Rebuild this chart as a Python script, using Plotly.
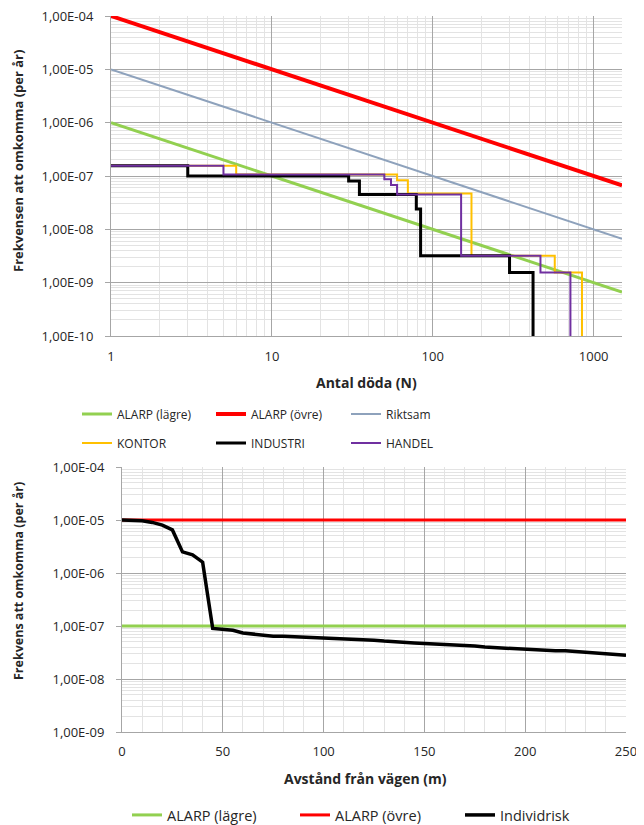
import plotly.graph_objects as go

# ---------------- data: top chart (F/N) ----------------
alarp_n = [1, 1500]
alarp_low_f = [1e-6, 1e-6 / 1500]
alarp_high_f = [1e-4, 1e-4 / 1500]
riktsam_f = [1e-5, 1e-5 / 1500]

kontor_n = [1, 6, 60, 70, 174, 573, 846]
kontor_f = [1.55e-7, 1.07e-7, 8.3e-8, 4.7e-8, 3.2e-9, 1.55e-9, 1e-11]

industri_n = [1, 3, 30, 35, 79, 84, 300, 420]
industri_f = [1.55e-7, 1.0e-7, 8.1e-8, 4.5e-8, 2.4e-8, 3.2e-9, 1.55e-9, 1e-11]

handel_n = [1, 5, 50, 55, 60, 150, 467, 717]
handel_f = [1.55e-7, 1.07e-7, 8.7e-8, 6.8e-8, 4.5e-8, 3.2e-9, 1.55e-9, 1e-11]

top_x_ticks = [1, 10, 100, 1000]
top_x_text = ["1", "10", "100", "1000"]
top_y_ticks = [1e-10, 1e-9, 1e-8, 1e-7, 1e-6, 1e-5, 1e-4]
top_y_text = ["1,00E-10", "1,00E-09", "1,00E-08", "1,00E-07", "1,00E-06", "1,00E-05", "1,00E-04"]

# ---------------- data: bottom chart (individual risk) ----------------
dist_m = [0, 5, 10, 15, 20, 25, 30, 35, 40, 45, 50, 55, 60, 65, 70, 75, 80, 85, 90, 95,
          100, 105, 110, 115, 120, 125, 130, 135, 140, 145, 150, 155, 160, 165, 170, 175,
          180, 185, 190, 195, 200, 205, 210, 215, 220, 225, 230, 235, 240, 245, 250]
individ_f = [1.0e-5, 9.9e-6, 9.7e-6, 9.0e-6, 8.0e-6, 6.5e-6, 2.5e-6, 2.2e-6, 1.6e-6, 9.0e-8,
             8.8e-8, 8.3e-8, 7.4e-8, 7.1e-8, 6.9e-8, 6.4e-8, 6.4e-8, 6.3e-8, 6.2e-8, 6.1e-8,
             6.0e-8, 5.9e-8, 5.8e-8, 5.7e-8, 5.6e-8, 5.4e-8, 5.2e-8, 5.0e-8, 4.9e-8, 4.8e-8,
             4.7e-8, 4.6e-8, 4.5e-8, 4.5e-8, 4.3e-8, 4.2e-8, 4.0e-8, 3.9e-8, 3.8e-8, 3.7e-8,
             3.6e-8, 3.5e-8, 3.5e-8, 3.4e-8, 3.4e-8, 3.3e-8, 3.2e-8, 3.1e-8, 3.0e-8, 2.95e-8,
             2.8e-8]
bottom_line_x = [0, 250]
bottom_alarp_low = [1e-7, 1e-7]
bottom_alarp_high = [1e-5, 1e-5]

bot_x_ticks = [0, 50, 100, 150, 200, 250]
bot_x_text = ["0", "50", "100", "150", "200", "250"]
bot_y_ticks = [1e-9, 1e-8, 1e-7, 1e-6, 1e-5, 1e-4]
bot_y_text = ["1,00E-09", "1,00E-08", "1,00E-07", "1,00E-06", "1,00E-05", "1,00E-04"]

# ---------------- styling ----------------
W, H = 644, 825
OFF = 8  # page body margin offsets the figure by 8 px
GREEN = "#92D050"
RED = "#FF0000"
RIKT = "#8EA2BC"
ORANGE = "#FFC000"
BLACK = "#000000"
PURPLE = "#7030A0"
MAJOR = "#A6A6A6"
MINOR = "#E3E3E3"
FONT = "Open Sans"
TXT = "#262626"


def px_x(p):
    return (p - OFF) / W


def px_y(p):
    return 1 - (p - OFF) / H


def log_minor(lo, hi):
    vals = []
    for d in range(lo, hi):
        for k in range(2, 10):
            vals.append(k * 10.0 ** d)
    return vals


fig = go.Figure()

# (name, x, y, color, width, shape, legend position px, legend font size)
top_series = [
    ("ALARP (lägre)", alarp_n, alarp_low_f, GREEN, 3, "linear", (77, 414), 12),
    ("ALARP (övre)", alarp_n, alarp_high_f, RED, 4, "linear", (211, 414), 12),
    ("Riktsam", alarp_n, riktsam_f, RIKT, 2, "linear", (346, 414), 12),
    ("KONTOR", kontor_n, kontor_f, ORANGE, 2, "hv", (77, 443), 12),
    ("INDUSTRI", industri_n, industri_f, BLACK, 3, "hv", (211, 443), 12),
    ("HANDEL", handel_n, handel_f, PURPLE, 2, "hv", (346, 443), 12),
]
bottom_series = [
    ("ALARP (lägre)", bottom_line_x, bottom_alarp_low, GREEN, 3, "linear", (127, 815), 14.5),
    ("ALARP (övre)", bottom_line_x, bottom_alarp_high, RED, 3, "linear", (295, 815), 14.5),
    ("Individrisk", dist_m, individ_f, BLACK, 3.5, "linear", (460, 815), 14.5),
]

legends = {}
i = 0
for series, xa, ya in [(top_series, "x", "y"), (bottom_series, "x2", "y2")]:
    for name, xs, ys, col, lw, shape, (lx, ly), fs in series:
        i += 1
        lid = "legend" if i == 1 else f"legend{i}"
        fig.add_trace(go.Scatter(x=xs, y=ys, mode="lines", name=name, line_shape=shape,
                                 line=dict(color=col, width=lw), xaxis=xa, yaxis=ya,
                                 legend=lid, showlegend=True))
        legends[lid] = dict(orientation="h", x=px_x(lx), xanchor="left", y=px_y(ly),
                            yanchor="middle", font=dict(family=FONT, size=fs, color=TXT),
                            bgcolor="rgba(0,0,0,0)", borderwidth=0, itemclick=False,
                            itemdoubleclick=False)

tickfont = dict(family=FONT, size=13, color=TXT)

common = dict(tickfont=tickfont, showgrid=True, gridcolor=MAJOR, gridwidth=1, zeroline=False,
              showline=True, linecolor=MAJOR, automargin=False, ticklabeloverflow="allow")

fig.update_layout(
    width=W, height=H,
    margin=dict(l=0, r=0, t=0, b=0, pad=0, autoexpand=False),
    paper_bgcolor="white", plot_bgcolor="white",
    font=dict(family=FONT, color=TXT),
    xaxis=dict(type="log", range=[0, 3.1761], domain=[px_x(111), px_x(622)],
               tickvals=top_x_ticks, ticktext=top_x_text, ticks="", ticklabelstandoff=8,
               minor=dict(tickvals=log_minor(0, 4), showgrid=True, gridcolor=MINOR, gridwidth=1),
               anchor="y", **common),
    yaxis=dict(type="log", range=[-10, -4], domain=[px_y(336), px_y(16)],
               tickvals=top_y_ticks, ticktext=top_y_text,
               ticks="outside", ticklen=5, tickcolor=MAJOR, ticklabelstandoff=9,
               minor=dict(tickvals=log_minor(-10, -4), showgrid=True, gridcolor=MINOR, gridwidth=1),
               anchor="x", **common),
    xaxis2=dict(type="linear", range=[0, 250], domain=[px_x(122), px_x(626)],
                tickvals=bot_x_ticks, ticktext=bot_x_text, ticks="", ticklabelstandoff=7,
                minor=dict(dtick=10, showgrid=True, gridcolor=MINOR, gridwidth=1),
                anchor="y2", **common),
    yaxis2=dict(type="log", range=[-9, -4], domain=[px_y(732), px_y(467)],
                tickvals=bot_y_ticks, ticktext=bot_y_text,
                ticks="outside", ticklen=5, tickcolor=MAJOR, ticklabelstandoff=9,
                minor=dict(tickvals=log_minor(-9, -4), showgrid=True, gridcolor=MINOR, gridwidth=1),
                anchor="x2", **common),
    annotations=[
        dict(text="<b>Antal döda (N)</b>", x=px_x(366), y=px_y(382), xref="paper", yref="paper",
             xanchor="center", yanchor="middle", showarrow=False,
             font=dict(family=FONT, size=14, color=TXT)),
        dict(text="<b>Frekvensen att omkomma (per år)</b>", x=px_x(18), y=px_y(161), xref="paper",
             yref="paper", xanchor="center", yanchor="middle", showarrow=False, textangle=-90,
             font=dict(family=FONT, size=13, color=TXT)),
        dict(text="<b>Avstånd från vägen (m)</b>", x=px_x(365), y=px_y(778), xref="paper", yref="paper",
             xanchor="center", yanchor="middle", showarrow=False,
             font=dict(family=FONT, size=14, color=TXT)),
        dict(text="<b>Frekvens att omkomma (per år)</b>", x=px_x(18), y=px_y(581), xref="paper",
             yref="paper", xanchor="center", yanchor="middle", showarrow=False, textangle=-90,
             font=dict(family=FONT, size=12.5, color=TXT)),
    ],
    showlegend=True,
)
fig.update_layout(**legends)

fig.write_html("out.html")
